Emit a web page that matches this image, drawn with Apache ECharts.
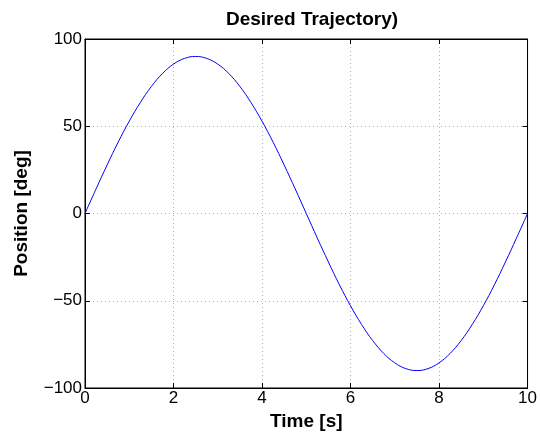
<!DOCTYPE html>
<html><head><meta charset="utf-8">
<script src="https://cdn.jsdelivr.net/npm/echarts@6/dist/echarts.min.js"></script>
<style>html,body{margin:0;padding:0;background:#fff}#c{width:540px;height:436px}</style>
</head><body><div id="c"></div>
<script>
const titleText = 'Desired Trajectory)';
const xName = 'Time [s]';
const yName = 'Position [deg]';
const timeValues = [0,0.25,0.5,0.75,1,1.25,1.5,1.75,2,2.25,2.5,2.75,3,3.25,3.5,3.75,4,4.25,4.5,4.75,5,5.25,5.5,5.75,6,6.25,6.5,6.75,7,7.25,7.5,7.75,8,8.25,8.5,8.75,9,9.25,9.5,9.75,10];
const positionValues = [0,14.1,27.8,40.9,52.9,63.6,72.8,80.2,85.6,88.9,90,88.9,85.6,80.2,72.8,63.6,52.9,40.9,27.8,14.1,0,-14.1,-27.8,-40.9,-52.9,-63.6,-72.8,-80.2,-85.6,-88.9,-90,-88.9,-85.6,-80.2,-72.8,-63.6,-52.9,-40.9,-27.8,-14.1,0];
const xTicks = [0,2,4,6,8,10];
const yTicks = [-100,-50,0,50,100];

const font = 'Liberation Sans, Arial, Helvetica, sans-serif';
const chart = echarts.init(document.getElementById('c'), null, {renderer:'canvas'});
const minus = v => String(v).replace('-', '\u2212');
const gridLine = {show:true, lineStyle:{color:'#b0b0b0', type:[1,3], width:1}};
const axisLine = {show:true, onZero:false, lineStyle:{color:'#000'}};
const tick = {show:true, inside:true, length:5, lineStyle:{color:'#000'}};
chart.setOption({
  animation:false,
  title:{text:titleText, left:307, textAlign:'center', top:5,
    textStyle:{fontFamily:font, fontWeight:'bold', fontSize:19, color:'#000'}},
  grid:{left:85, right:11, top:39, bottom:48, show:true, borderColor:'#000', borderWidth:1},
  xAxis:[{
    type:'value', min:xTicks[0], max:xTicks[xTicks.length-1], interval:2,
    name:xName, nameLocation:'middle', nameGap:21,
    nameTextStyle:{fontFamily:font, fontWeight:'bold', fontSize:19, color:'#000'},
    axisLine:axisLine, axisTick:tick,
    axisLabel:{fontFamily:font, fontSize:17, color:'#000', margin:2, formatter:minus},
    splitLine:gridLine
  },{
    type:'value', min:xTicks[0], max:xTicks[xTicks.length-1], interval:2, position:'top',
    axisLine:axisLine, axisTick:tick,
    axisLabel:{show:false}, splitLine:{show:false}
  }],
  yAxis:[{
    type:'value', min:yTicks[0], max:yTicks[yTicks.length-1], interval:50,
    name:yName, nameLocation:'middle', nameGap:54,
    nameTextStyle:{fontFamily:font, fontWeight:'bold', fontSize:19, color:'#000'},
    axisLine:axisLine, axisTick:tick,
    axisLabel:{fontFamily:font, fontSize:17, color:'#000', margin:3, formatter:minus},
    splitLine:gridLine
  },{
    type:'value', min:yTicks[0], max:yTicks[yTicks.length-1], interval:50, position:'right',
    axisLine:axisLine, axisTick:tick,
    axisLabel:{show:false}, splitLine:{show:false}
  }],
  series:[{
    type:'line', data: timeValues.map((t,i)=>[t, positionValues[i]]),
    showSymbol:false, smooth:0.4, lineStyle:{color:'#0000ff', width:1}, itemStyle:{color:'#0000ff'}
  }]
});
</script></body></html>
